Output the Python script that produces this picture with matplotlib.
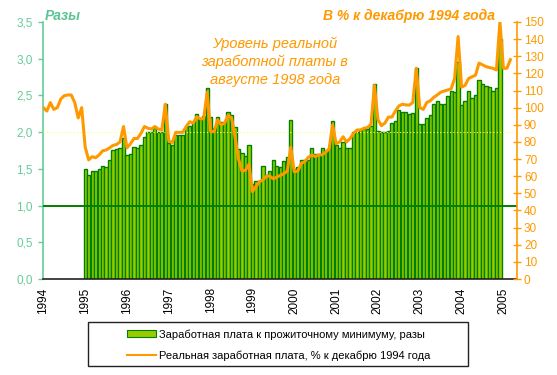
import matplotlib
matplotlib.use('Agg')
import matplotlib.pyplot as plt
import numpy as np
from matplotlib.patches import Rectangle, Patch
from matplotlib.lines import Line2D

plt.rcParams['font.family'] = ['Liberation Sans', 'DejaVu Sans']

W, H = 557, 375
GREEN_AX = '#66cc99'
ORANGE = '#ff9900'
BAR_FACE = '#99cc00'
BAR_EDGE = '#008000'

years = list(range(1994, 2006))

# wage to subsistence minimum, times; monthly, Jan 1995 .. Dec 2004
ratio = [
    1.50, 1.42, 1.47, 1.47, 1.50, 1.54, 1.52, 1.62, 1.76, 1.77, 1.78, 1.92,  # 1995
    1.69, 1.70, 1.80, 1.79, 1.82, 1.93, 2.00, 2.00, 2.05, 2.00, 2.00, 2.38,  # 1996
    1.85, 1.83, 1.96, 1.96, 1.96, 2.07, 2.08, 2.14, 2.25, 2.18, 2.22, 2.60,  # 1997
    2.21, 2.06, 2.20, 2.14, 2.14, 2.27, 2.24, 2.07, 1.77, 1.72, 1.67, 1.83,  # 1998
    1.30, 1.33, 1.34, 1.54, 1.42, 1.47, 1.62, 1.54, 1.53, 1.61, 1.66, 2.16,  # 1999
    1.50, 1.53, 1.62, 1.62, 1.62, 1.78, 1.70, 1.70, 1.78, 1.73, 1.79, 2.15,  # 2000
    1.82, 1.79, 1.87, 1.79, 1.79, 2.00, 2.00, 2.03, 2.04, 2.04, 2.09, 2.65,  # 2001
    2.02, 2.00, 2.00, 2.01, 2.13, 2.15, 2.30, 2.28, 2.28, 2.25, 2.26, 2.87,  # 2002
    2.11, 2.11, 2.19, 2.24, 2.38, 2.42, 2.38, 2.39, 2.49, 2.56, 2.55, 2.96,  # 2003
    2.37, 2.42, 2.56, 2.46, 2.51, 2.71, 2.65, 2.63, 2.62, 2.56, 2.60, 3.27,  # 2004
]

# real wage, % of December 1994; monthly, Jan 1994 .. Mar 2005
real_wage = [
    100, 98, 103, 99, 100, 105, 107, 107.4, 107.4, 103, 94, 100,           # 1994
    77, 69.5, 71.4, 70.8, 72.4, 74.8, 75.3, 76.5, 78, 78.5, 80, 89,          # 1995
    76.5, 79, 82, 82, 85, 89, 88, 87.5, 89, 87.5, 87, 102,                   # 1996
    80.5, 79.6, 85.6, 85.6, 85.6, 89, 91.8, 91, 94.7, 93.5, 93.5, 109,       # 1997
    86, 86, 93, 90, 91, 95.5, 94, 83, 70, 63, 63.5, 67,                      # 1998
    51, 54, 56.8, 57.8, 60, 60, 58.5, 59.5, 60.5, 61.5, 63, 77,              # 1999
    62.6, 63, 67.5, 68.5, 71, 72.4, 71.5, 72.4, 72.5, 74, 76, 90,            # 2000
    79, 80, 83, 80, 82, 85, 87, 87, 88, 88.4, 90.3, 113,                     # 2001
    93, 89.5, 91, 94.5, 94.5, 98, 101, 102, 101.6, 101.5, 103, 123,          # 2002
    100, 99, 103, 104, 106, 107.4, 109, 109.7, 110.3, 111, 117, 141.5,       # 2003
    112, 113, 117, 118, 119, 126, 125, 124, 123.4, 123, 122, 150,            # 2004
    123, 123, 128,                                                           # 2005
]

left_ticks = [0, 0.5, 1.0, 1.5, 2.0, 2.5, 3.0, 3.5]
right_ticks = list(range(0, 151, 10))

bar_x = np.arange(12, 12 + len(ratio))
line_x = np.arange(len(real_wage))

fig = plt.figure(figsize=(W / 100, H / 100), dpi=100)
ax = fig.add_axes([43 / W, 1 - 279 / H, (517 - 43) / W, (279 - 22) / H])
ax2 = ax.twinx()

ax.bar(bar_x, ratio, width=0.92, color=BAR_FACE, edgecolor=BAR_EDGE,
       linewidth=1.0, zorder=2)
ax.axhline(2.0, color='#ffff66', lw=0.8, ls=(0, (1, 2)), zorder=3)
ax.axhline(1.0, color=BAR_EDGE, lw=1.4, zorder=4)

ax2.plot(line_x, real_wage, color=ORANGE, lw=2.2, solid_joinstyle='round')

ax.set_xlim(-0.1, 135.9)
ax.set_ylim(0, 3.5)
ax2.set_ylim(0, 150)

ax.set_xticks([12 * (y - 1994) for y in years])
ax.set_xticklabels([str(y) for y in years], rotation=90, fontsize=8.5, va='top')
ax.tick_params(axis='x', length=0, pad=6)

ax.set_yticks(left_ticks)
ax.set_yticklabels([f'{v:.1f}'.replace('.', ',') for v in left_ticks])
ax.tick_params(axis='y', colors=GREEN_AX, labelsize=8.5, length=3.5, width=1, pad=4)

ax2.set_yticks(right_ticks)
ax2.tick_params(axis='y', colors=ORANGE, labelsize=8.5, direction='inout',
                length=6, width=1, pad=2)

for a in (ax, ax2):
    a.spines['top'].set_visible(False)
ax.spines['left'].set_color(GREEN_AX)
ax.spines['left'].set_linewidth(1.2)
ax.spines['right'].set_visible(False)
ax2.spines['left'].set_visible(False)
ax2.spines['bottom'].set_visible(False)
ax2.spines['right'].set_color(ORANGE)
ax2.spines['right'].set_linewidth(1.2)
ax.spines['bottom'].set_color('#222222')
ax.spines['bottom'].set_linewidth(1.2)


def ftext(x, y, s, **kw):
    fig.text(x / W, 1 - y / H, s, **kw)


ftext(45, 16, 'Разы', color='#5cc495', fontsize=10, fontweight='bold',
      style='italic', ha='left', va='center')
ftext(323, 16, 'В % к декабрю 1994 года', color=ORANGE, fontsize=10,
      fontweight='bold', style='italic', ha='left', va='center')
for yy, s in [(44, 'Уровень реальной'), (62, 'заработной платы в'),
              (80, 'августе 1998 года')]:
    ftext(275, yy, s, color=ORANGE, fontsize=10.5, style='italic',
          ha='center', va='center')

# legend box
fig.patches.append(Rectangle((88 / W, 1 - 366 / H), (468 - 88) / W, 44 / H,
                             transform=fig.transFigure, fill=False,
                             edgecolor='#222222', lw=1))
handles = [Patch(facecolor=BAR_FACE, edgecolor=BAR_EDGE, lw=0.8),
           Line2D([], [], color=ORANGE, lw=1.5)]
labels = ['Заработная плата к прожиточному минимуму, разы',
          'Реальная заработная плата, % к декабрю 1994 года']
fig.legend(handles, labels, loc='upper left', frameon=False, fontsize=8,
           bbox_to_anchor=(125 / W, 1 - 327 / H), handlelength=2.6,
           handleheight=0.55, handletextpad=0.25, labelspacing=0.95,
           borderaxespad=0, borderpad=0.2)

fig.savefig('out.png', dpi=100)
